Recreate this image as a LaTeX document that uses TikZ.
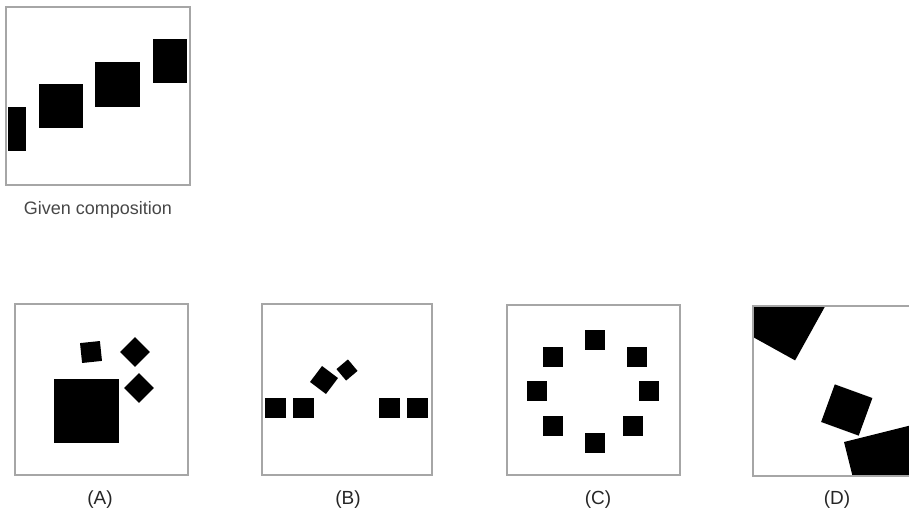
\documentclass[tikz,border=0pt]{standalone}
\usepackage{fontspec}
\setmainfont{Liberation Sans}
\usepackage{tikz}
\tikzset{
  frm/.style={draw=black!35,line width=1.5pt},
  blk/.style={fill=black,inner sep=0pt,minimum size=20pt},
  lbl/.style={font=\fontsize{19}{21}\selectfont,text=black!85},
}

\begin{document}
\begin{tikzpicture}[x=1pt,y=-1pt]
\useasboundingbox (0,0) rectangle (909,513);
% given composition
\begin{scope}[shift={(6,7)}]
\node[blk,minimum width=18pt,minimum height=44pt] (g1) at (11,122) {};
\node[blk,minimum size=44pt] (g2) at (55,99) {};
\node[blk,minimum size=45pt] (g3) at (111,77.5) {};
\node[blk,minimum width=34pt,minimum height=44pt] (g4) at (164,54) {};
\draw[frm] (0,0) rectangle (184,178);
\node[lbl,font=\fontsize{18}{20}\selectfont,text=black!72] (gtxt) at (92,203) {Given composition};
\end{scope}
% (A)
\begin{scope}[shift={(15,304)}]
\draw[frm] (0,0) rectangle (173,171);
\node[blk,minimum width=65pt,minimum height=64pt] (a1) at (71.5,107) {};
\node[blk,rotate=6] (a2) at (76,48) {};
\node[blk,minimum size=21pt,rotate=45] (a3) at (120,48) {};
\node[blk,minimum size=21pt,rotate=45] (a4) at (124,84) {};
\node[lbl] (alab) at (85,196) {(A)};
\end{scope}
% (B)
\begin{scope}[shift={(262,304)}]
\draw[frm] (0,0) rectangle (170,171);
\node[blk,minimum width=21pt] (b1) at (13,104) {};
\node[blk,minimum width=21pt] (b2) at (41.5,104) {};
\node[blk,minimum width=21pt] (b3) at (127,104) {};
\node[blk,minimum width=21pt] (b4) at (155.5,104) {};
\node[blk,rotate=-37] (b5) at (62,76) {};
\node[blk,minimum size=15pt,rotate=40] (b6) at (85,66) {};
\node[lbl] (blab) at (86,196) {(B)};
\end{scope}
% (C)
\begin{scope}[shift={(507,305)}]
\draw[frm] (0,0) rectangle (173,170);
\node[blk] (c1) at (88,34.5) {};
\node[blk] (c2) at (46,52) {};
\node[blk] (c3) at (130,52) {};
\node[blk] (c4) at (30,86) {};
\node[blk] (c5) at (142,86) {};
\node[blk] (c6) at (46,121) {};
\node[blk] (c7) at (126,121) {};
\node[blk] (c8) at (88,138) {};
\node[lbl] (clab) at (91,195) {(C)};
\end{scope}
% (D)
\begin{scope}[shift={(753,306)}]
\begin{scope}
\clip (0,0) rectangle (170,170);
\node[blk,minimum size=80pt,rotate=61] (d1) at (26.5,0) {};
\node[blk,minimum size=40pt,rotate=-20] (d2) at (93.75,104) {};
\node[blk,minimum size=75pt,rotate=14] (d3) at (136.5,163.3) {};
\end{scope}
\draw[frm] (0,0) rectangle (170,170);
\node[lbl] (dlab) at (84,194) {(D)};
\end{scope}
\end{tikzpicture}
\end{document}
